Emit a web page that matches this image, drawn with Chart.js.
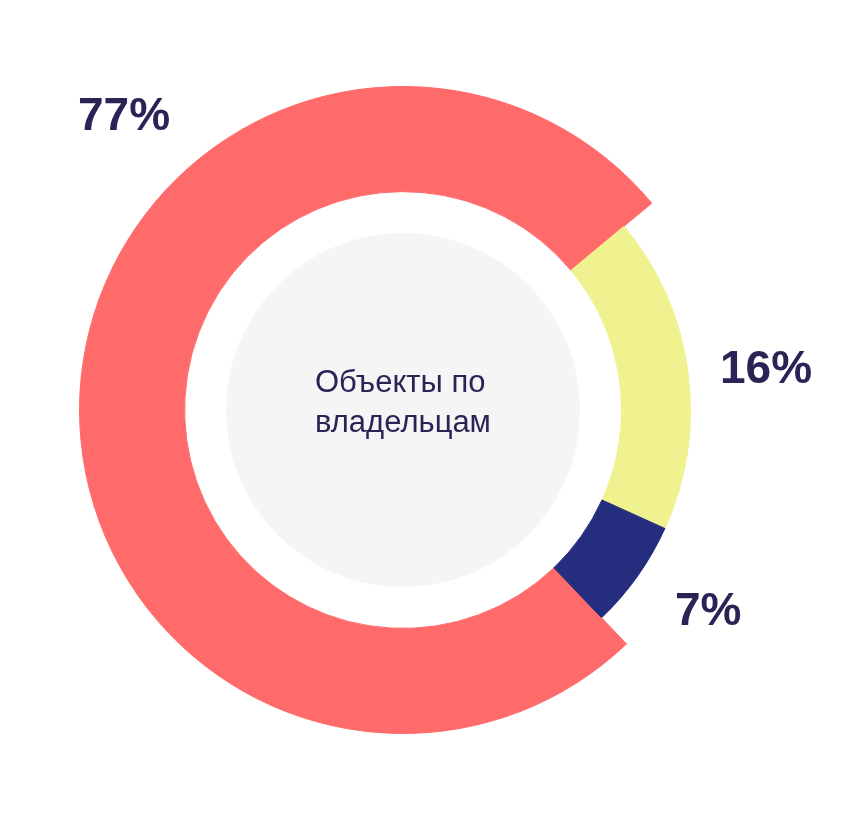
<!DOCTYPE html>
<html>
<head>
<meta charset="utf-8">
<script src="https://cdn.jsdelivr.net/npm/chart.js@4.4.0/dist/chart.umd.min.js"></script>
<style>
  html, body { margin: 0; padding: 0; background: #fff; }
  #wrap { position: relative; width: 857px; height: 816px; }
</style>
</head>
<body>
<div id="wrap"><canvas id="chart" width="857" height="816"></canvas></div>
<script>
// data (arc sizes as drawn in the picture, captions as printed)
const categories = ['Группа 1', 'Группа 2', 'Группа 3'];
const shares = [76.1, 17.8, 6.1];
const percentLabels = ['77%', '16%', '7%'];
const centerText = ['Объекты по', 'владельцам'];

const colors = ['#ff6b6b', '#eff28f', '#242d7e'];
const textColor = '#2a2456';

// where the percent labels go (page coords, text baseline)
const labelPos = [
    { x: 78, y: 130 },
    { x: 720, y: 383 },
    { x: 675, y: 625 }
];

// grey disc + center caption + percent labels
const decorPlugin = {
    id: 'decor',
    beforeDatasetsDraw: function(chart) {
        var arc = chart.getDatasetMeta(1).data[0];
        var ctx = chart.ctx;
        ctx.save();
        ctx.beginPath();
        ctx.arc(arc.x, arc.y, 177, 0, Math.PI * 2);
        ctx.fillStyle = '#f5f5f5';
        ctx.fill();
        ctx.restore();
    },
    afterDatasetsDraw: function(chart) {
        var ctx = chart.ctx;
        ctx.save();
        ctx.fillStyle = textColor;
        ctx.textAlign = 'left';
        ctx.textBaseline = 'alphabetic';
        ctx.font = '31px "Liberation Sans", Arial, sans-serif';
        ctx.fillText(centerText[0], 315, 392);
        ctx.fillText(centerText[1], 315, 432);

        ctx.font = 'bold 46px "Liberation Sans", Arial, sans-serif';
        percentLabels.forEach(function(txt, i) {
            ctx.fillText(txt, labelPos[i].x, labelPos[i].y);
        });
        ctx.restore();
    }
};

var ctx = document.getElementById('chart').getContext('2d');
var chart = new Chart(ctx, {
    type: 'doughnut',
    data: {
        labels: categories,
        datasets: [
            {
                // outer band: only the big segment sticks out
                data: shares,
                backgroundColor: [colors[0], 'rgba(0,0,0,0)', 'rgba(0,0,0,0)'],
                borderColor: [colors[0], 'rgba(0,0,0,0)', 'rgba(0,0,0,0)'],
                borderWidth: 1,
                weight: 36
            },
            {
                data: shares,
                backgroundColor: colors,
                borderColor: colors,
                borderWidth: 1,
                weight: 69
            }
        ]
    },
    options: {
        responsive: false,
        animation: false,
        events: [],
        rotation: 136.3,
        cutout: '67.5%',
        layout: {
            padding: { left: 79, right: 130, top: 86, bottom: 82 }
        },
        plugins: {
            legend: { display: false },
            tooltip: { enabled: false }
        }
    },
    plugins: [decorPlugin]
});
</script>
</body>
</html>
